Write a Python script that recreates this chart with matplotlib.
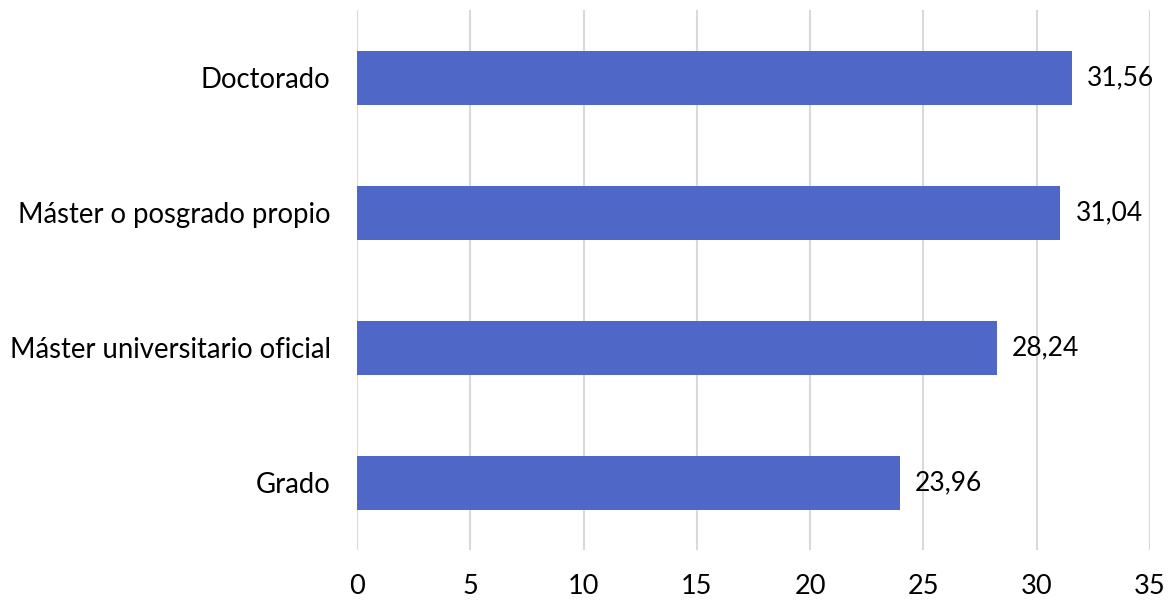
import matplotlib.pyplot as plt
import matplotlib as mpl

mpl.rcParams['font.family'] = ['Lato', 'DejaVu Sans']

# Data
categories = ['Grado', 'Máster universitario oficial', 'Máster o posgrado propio', 'Doctorado']
values = [23.96, 28.24, 31.04, 31.56]
value_labels = ['23,96', '28,24', '31,04', '31,56']
xticks = [0, 5, 10, 15, 20, 25, 30, 35]

fig = plt.figure(figsize=(11.72, 6.06), dpi=100)
ax = fig.add_axes([0.3046, 0.0916, 0.6766, 0.8911])

bar_color = '#4F68C8'
bars = ax.barh(range(len(categories)), values, height=0.4, color=bar_color, zorder=3)

for bar, lab in zip(bars, value_labels):
    ax.annotate(lab, (bar.get_width(), bar.get_y() + bar.get_height() / 2),
                xytext=(11, 0), textcoords='offset points',
                ha='left', va='center', fontsize=19, color='#000000')

ax.set_xlim(0, 35)
ax.set_ylim(-0.5, len(categories) - 0.5)
ax.set_xticks(xticks)
ax.set_xticklabels([str(t) for t in xticks])
ax.set_yticks(range(len(categories)))
ax.set_yticklabels(categories)

ax.grid(axis='x', color='#D9D9D9', linewidth=1.5, zorder=0)
ax.tick_params(axis='both', length=0)
ax.tick_params(axis='y', pad=19, labelsize=19.8)
ax.tick_params(axis='x', pad=17, labelsize=19.5)
for s in ax.spines.values():
    s.set_visible(False)

plt.savefig('out.png', dpi=100)
plt.close()
